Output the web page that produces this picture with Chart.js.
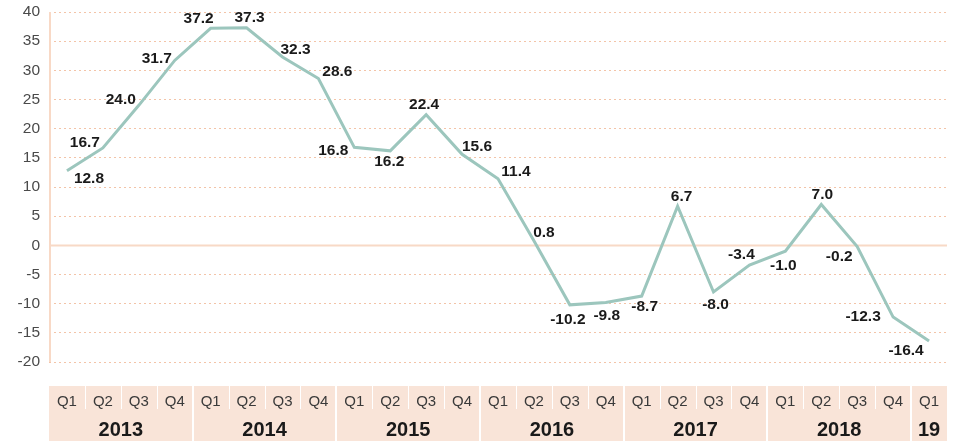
<!DOCTYPE html>
<html>
<head>
<meta charset="utf-8">
<script src="https://cdn.jsdelivr.net/npm/chart.js@4"></script>
<style>
  html, body { margin: 0; padding: 0; background: #ffffff; }
  #wrap { width: 954px; height: 441px; position: relative; }
</style>
</head>
<body>
<div id="wrap"><canvas id="c" width="954" height="441"></canvas></div>
<script>
// ---- data ----
const quarterLabels = ["Q1","Q2","Q3","Q4","Q1","Q2","Q3","Q4","Q1","Q2","Q3","Q4",
                       "Q1","Q2","Q3","Q4","Q1","Q2","Q3","Q4","Q1","Q2","Q3","Q4","Q1"];
const yearLabels = ["2013","2014","2015","2016","2017","2018","19"];
const yearSpans  = [4, 4, 4, 4, 4, 4, 1];
const values = [12.8, 16.7, 24.0, 31.7, 37.2, 37.3, 32.3, 28.6, 16.8, 16.2, 22.4, 15.6,
                11.4, 0.8, -10.2, -9.8, -8.7, 6.7, -8.0, -3.4, -1.0, 7.0, -0.2, -12.3, -16.4];
const yMin = -20, yMax = 40, yStep = 5;

// ---- label placement (style only: offset of each value label from its point) ----
const labelOffsets = [
  [22, 8], [-18, -5], [-18, -6], [-18, -2], [-12, -10], [3, -10], [13, -7], [19, -7],
  [-21, 3], [-1, 11], [-2, -10], [15, -8], [18, -7], [10, -8], [-2, 15], [1, 13],
  [3, 11], [4, -10], [2, 13], [-8, -10], [-2, 15], [1, -10], [-18, 10], [-30, 0], [-23, 10]
];

const PEACH = '#f9e4d8';
const GRID = '#f3c4a8';
const AXIS = '#f8d9c6';
const FONT = '"Liberation Sans", Arial, sans-serif';

const decorPlugin = {
  id: 'decor',
  beforeDatasetsDraw(chart) {
    const {ctx, chartArea, scales: {y}} = chart;
    ctx.save();
    const y0 = Math.round(y.getPixelForValue(0)) + 0.5;
    ctx.strokeStyle = AXIS;
    ctx.lineWidth = 2;
    ctx.beginPath();
    ctx.moveTo(chartArea.left, y0);
    ctx.lineTo(chartArea.right, y0);
    ctx.stroke();
    ctx.beginPath();
    ctx.moveTo(chartArea.left + 1, chartArea.top);
    ctx.lineTo(chartArea.left + 1, chartArea.bottom);
    ctx.stroke();
    ctx.restore();
  },
  afterDatasetsDraw(chart) {
    const {ctx, chartArea, scales: {x}} = chart;
    const meta = chart.getDatasetMeta(0);
    ctx.save();
    ctx.font = 'bold 15.5px ' + FONT;
    ctx.fillStyle = '#1a1a1a';
    ctx.textAlign = 'center';
    ctx.textBaseline = 'middle';
    meta.data.forEach((pt, i) => {
      const [dx, dy] = labelOffsets[i];
      ctx.fillText(values[i].toFixed(1), pt.x + dx, pt.y + dy);
    });

    const half = (x.getPixelForValue(1) - x.getPixelForValue(0)) / 2;
    const rowTop = 386;
    const rowMid = rowTop + 25;
    const rowBot = chart.height;
    const left = x.getPixelForValue(0) - half;
    const right = x.getPixelForValue(quarterLabels.length - 1) + half;
    ctx.fillStyle = PEACH;
    ctx.fillRect(left, rowTop, right - left, rowBot - rowTop);

    ctx.strokeStyle = '#ffffff';
    ctx.lineWidth = 1;
    for (let i = 1; i < quarterLabels.length; i++) {
      const xs = Math.round(x.getPixelForValue(i) - half) + 0.5;
      ctx.beginPath();
      ctx.moveTo(xs, rowTop);
      ctx.lineTo(xs, rowMid - 2);
      ctx.stroke();
    }
    ctx.lineWidth = 2;
    let idx = 0;
    for (let k = 0; k < yearSpans.length - 1; k++) {
      idx += yearSpans[k];
      const xs = Math.round(x.getPixelForValue(idx) - half);
      ctx.beginPath();
      ctx.moveTo(xs, rowTop);
      ctx.lineTo(xs, rowBot);
      ctx.stroke();
    }

    ctx.fillStyle = '#3a3a3a';
    ctx.font = '15px ' + FONT;
    quarterLabels.forEach((q, i) => {
      ctx.fillText(q, x.getPixelForValue(i), rowTop + 16);
    });
    ctx.fillStyle = '#1a1a1a';
    ctx.font = 'bold 20px ' + FONT;
    idx = 0;
    yearLabels.forEach((yr, k) => {
      const a = x.getPixelForValue(idx);
      const b = x.getPixelForValue(idx + yearSpans[k] - 1);
      ctx.fillText(yr, (a + b) / 2, rowMid + 19);
      idx += yearSpans[k];
    });
    ctx.restore();
  }
};

new Chart(document.getElementById('c'), {
  type: 'line',
  data: {
    labels: quarterLabels,
    datasets: [{
      data: values,
      borderColor: '#9cc6bd',
      borderWidth: 3,
      pointRadius: 0,
      tension: 0,
      fill: false
    }]
  },
  options: {
    responsive: false,
    animation: false,
    devicePixelRatio: 1,
    layout: { padding: { top: 12, right: 7, bottom: 79, left: 0 } },
    plugins: { legend: { display: false }, tooltip: { enabled: false } },
    scales: {
      x: { type: 'category', display: false, offset: true },
      y: {
        min: yMin,
        max: yMax,
        afterFit(scale) { scale.width = 49; scale.paddingTop = 0; scale.paddingBottom = 0; },
        ticks: {
          stepSize: yStep,
          padding: 9,
          color: '#4a4a4a',
          font: { family: FONT, size: 15.5 }
        },
        grid: {
          drawTicks: false,
          lineWidth: 1,
          color: (c) => (c.tick && c.tick.value === 0) ? 'rgba(0,0,0,0)' : GRID
        },
        border: { display: false, dash: [2, 3] }
      }
    }
  },
  plugins: [decorPlugin]
});
</script>
</body>
</html>
